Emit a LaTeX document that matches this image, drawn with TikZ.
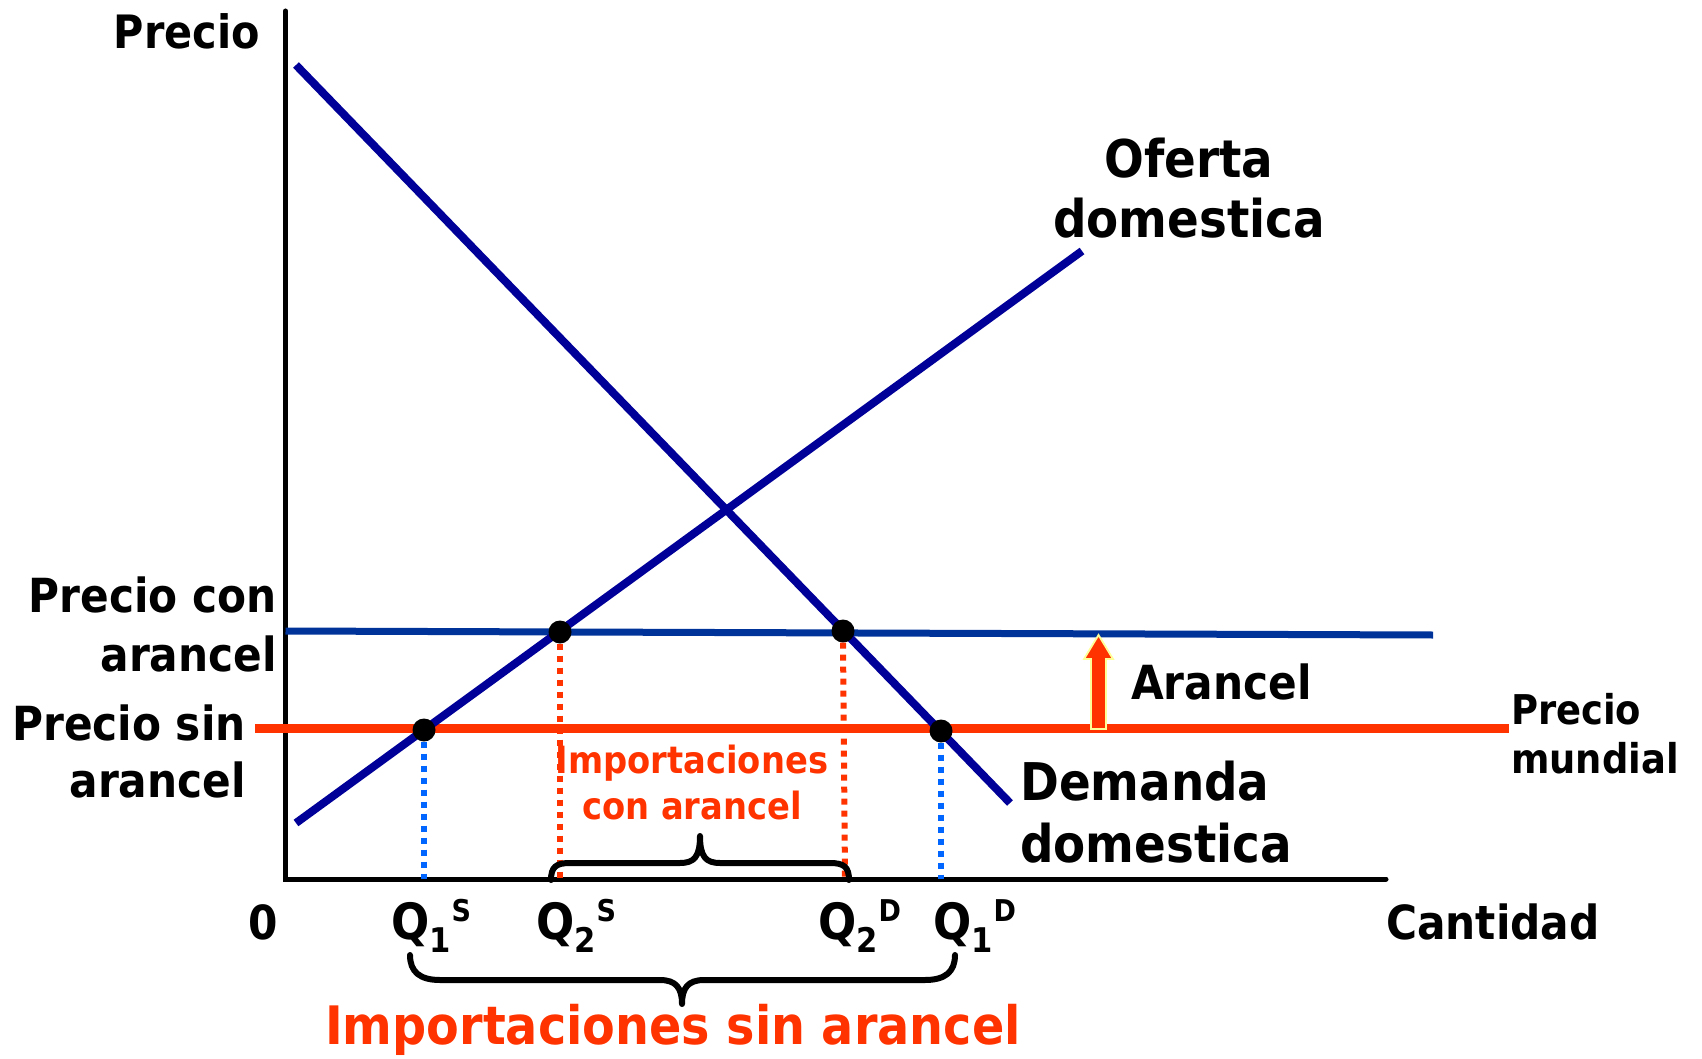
\documentclass[tikz,border=0pt]{standalone}
\usepackage{fontspec}
\newfontfamily\lblfont{DejaVu Sans Condensed Bold}
\definecolor{navy}{HTML}{000099}
\definecolor{tblue}{HTML}{003399}
\definecolor{wred}{HTML}{FF3300}
\definecolor{dblue}{HTML}{0066FF}
\definecolor{pale}{HTML}{FFFF99}
\newcommand\fsz[1]{\fontsize{#1}{#1}\selectfont}
\newcommand\qlab[3]{Q\raisebox{-0.26em}{\fsz{34}#1}\kern1pt\raisebox{0.36em}{\fsz{30}#2}}
\begin{document}
\begin{tikzpicture}[x=1pt,y=-1pt,
  lbl/.style={inner sep=0pt, font=\lblfont},
  curve/.style={navy, line width=8pt},
  axisline/.style={black, line width=5pt, line cap=round},
  dotline/.style={line width=6pt, dash pattern=on 6pt off 6pt},
  eqdot/.style={circle, fill=black, minimum size=23pt, inner sep=0pt},
  bracestyle/.style={black, line width=6pt, line cap=round, line join=round}]
\useasboundingbox (0,0) rectangle (1702,1059);
% coordinates
\coordinate (O) at (285.5,879);
\coordinate (Ytop) at (285.5,11);
\coordinate (Xend) at (1386,879);
\coordinate (D1) at (296,65);
\coordinate (D2) at (1010,803);
\coordinate (S1) at (296,823);
\coordinate (S2) at (1082,251);
\coordinate (PT1) at (285.5,631);
\coordinate (PT2) at (1433,635);
\coordinate (PW1) at (255,728);
\coordinate (PW2) at (1509,728);
\coordinate (qa) at (424,879);
\coordinate (qb) at (560,879);
\coordinate (qc) at (845,879);
\coordinate (qd) at (941,879);
% axes
\draw[axisline] (Ytop) -- (O) -- (Xend);
% price lines
\draw[tblue, line width=7pt] (PT1) -- (PT2);
\draw[wred, line width=9pt] (PW1) -- (PW2);
% supply and demand
\draw[curve] (D1) -- (D2);
\draw[curve] (S1) -- (S2);
% dots
\node[eqdot] (da) at (424,730) {};
\node[eqdot] (db) at (560,632) {};
\node[eqdot] (dc) at (843,631) {};
\node[eqdot] (dd) at (941,731) {};
% dotted drops
\draw[dotline, dblue] (da.south) -- (qa);
\draw[dotline, dblue] (dd.south) -- (qd);
\draw[dotline, wred] (db.south) -- (qb);
\draw[dotline, wred] (dc.south) -- (qc);
% tariff arrow
\filldraw[fill=wred, draw=pale, line width=1.8pt]
  (1091,729) -- (1091,659) -- (1084,659) -- (1098.5,635) -- (1113,659) -- (1106,659) -- (1106,729) -- cycle;
% small brace
\draw[bracestyle] (551,880) .. controls (551,867) and (556,863) .. (570,863) -- (680,863) .. controls (694,863) and (700,857) .. (700,836) .. controls (700,857) and (706,863) .. (720,863) -- (830,863) .. controls (844,863) and (849,867) .. (849,880);
% big brace
\draw[bracestyle] (410,955) .. controls (410,972) and (420,980) .. (440,980) -- (660,980) .. controls (676,980) and (682,988) .. (682,1004) .. controls (682,988) and (688,980) .. (704,980) -- (925,980) .. controls (945,980) and (955,972) .. (955,955);
% labels
\node[lbl, anchor=base east] (tprecio) at (260,49) {\fsz{46}Precio};
\node[lbl, anchor=base] (tofA) at (1189,178) {\fsz{52}Oferta};
\node[lbl, anchor=base] (tofB) at (1189,238) {\fsz{52}domestica};
\node[lbl, anchor=base west] (tdeA) at (1020,800) {\fsz{52}Demanda};
\node[lbl, anchor=base west] (tdeB) at (1020,862) {\fsz{52}domestica};
\node[lbl, anchor=base east] (tpcA) at (277,612) {\fsz{47}Precio con};
\node[lbl, anchor=base east] (tpcB) at (277,671) {\fsz{47}arancel};
\node[lbl, anchor=base east] (tpsA) at (246,740) {\fsz{47}Precio sin};
\node[lbl, anchor=base east] (tpsB) at (246,797) {\fsz{47}arancel};
\node[lbl, anchor=base west] (tpmA) at (1511,724) {\fsz{41}Precio};
\node[lbl, anchor=base west] (tpmB) at (1511,773) {\fsz{41}mundial};
\node[lbl, anchor=base west] (tar) at (1131,699) {\fsz{47}Arancel};
\node[lbl, anchor=base west] (tcant) at (1386,939) {\fsz{47}Cantidad};
\node[lbl, anchor=base] (tzero) at (263,939) {\fsz{47}0};
\node[lbl, anchor=base west] (tq1s) at (391,939) {\fsz{50}\qlab{1}{S}{}};
\node[lbl, anchor=base west] (tq2s) at (536,939) {\fsz{50}\qlab{2}{S}{}};
\node[lbl, anchor=base west] (tq2d) at (818,939) {\fsz{50}\qlab{2}{D}{}};
\node[lbl, anchor=base west] (tq1d) at (933,939) {\fsz{50}\qlab{1}{D}{}};
\node[lbl, anchor=base, text=wred] (ticA) at (692,773) {\fsz{37.5}Importaciones};
\node[lbl, anchor=base, text=wred] (ticB) at (692,819) {\fsz{37.5}con arancel};
\node[lbl, anchor=base, text=wred] (tisa) at (673,1044) {\fsz{53}Importaciones sin arancel};
\end{tikzpicture}
\end{document}
